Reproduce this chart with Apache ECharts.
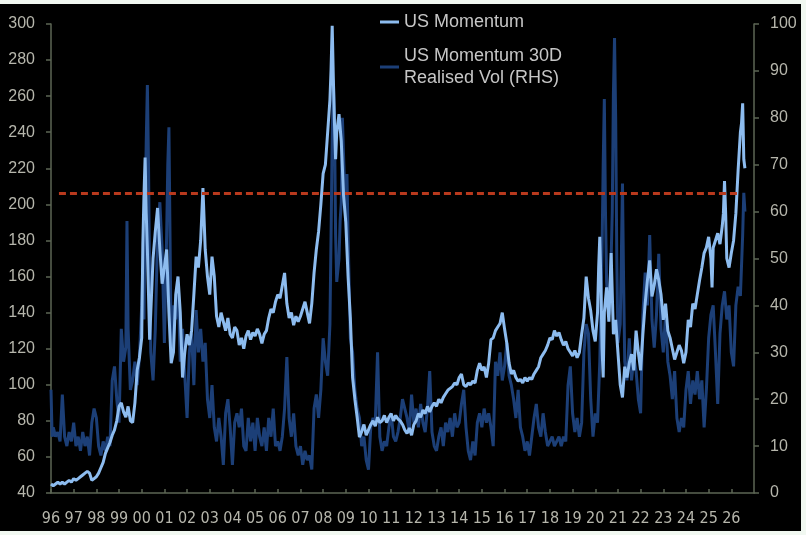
<!DOCTYPE html>
<html>
<head>
<meta charset="utf-8">
<script src="https://cdn.jsdelivr.net/npm/echarts@6/dist/echarts.min.js"></script>
<style>
  html, body { margin: 0; padding: 0; background: #f1f8f1; }
  #bg { position: absolute; left: 0; top: 4px; width: 801px; height: 527px; background: #000; }
  #main { position: absolute; left: 0; top: 0; width: 806px; height: 535px; }
</style>
</head>
<body>
<div id="bg"></div>
<div id="main"></div>
<script>
// ---- Data ----
const xTickYears = [1996, 2027];          // x axis range (labels 96 ... 26)
const leftTicks = [40, 300, 20];          // min, max, interval
const rightTicks = [0, 100, 10];
const thresholdLevel = 206;               // red dashed line, LHS
const thresholdSpan = [1996.35, 2026.28];

// US Momentum (LHS)
const momentum = [
[1996.0,45],[1996.1,44],[1996.2,45],[1996.3,46],[1996.4,45],[1996.5,46],[1996.6,45],[1996.7,46],[1996.8,47],[1996.9,46],
[1997.0,48],[1997.1,47],[1997.2,48],[1997.3,49],[1997.4,50],[1997.5,51],[1997.6,52],[1997.7,51],[1997.8,47],[1997.9,48],
[1998.0,49],[1998.1,51],[1998.2,54],[1998.3,57],[1998.4,62],[1998.5,65],[1998.6,68],[1998.7,72],[1998.8,75],[1998.9,80],
[1999.0,88],[1999.1,90],[1999.2,85],[1999.3,82],[1999.4,88],[1999.5,80],[1999.6,79],[1999.7,90],[1999.8,108],[1999.9,115],
[2000.0,126],[2000.05,178],[2000.1,205],[2000.15,226],[2000.2,195],[2000.25,175],[2000.3,150],[2000.35,125],[2000.4,140],[2000.5,170],[2000.6,185],[2000.7,198],[2000.8,175],[2000.9,156],
[2001.0,165],[2001.1,175],[2001.2,140],[2001.3,112],[2001.4,118],[2001.5,150],[2001.6,160],[2001.7,140],[2001.8,104],[2001.9,118],
[2002.0,128],[2002.1,122],[2002.2,130],[2002.3,150],[2002.4,171],[2002.5,165],[2002.6,180],[2002.7,209],[2002.8,175],[2002.9,160],
[2003.0,150],[2003.1,171],[2003.2,160],[2003.3,138],[2003.4,132],[2003.5,140],[2003.6,135],[2003.7,130],[2003.8,137],[2003.9,128],
[2004.0,126],[2004.1,132],[2004.2,130],[2004.3,122],[2004.4,126],[2004.5,120],[2004.6,127],[2004.7,130],[2004.8,125],[2004.9,129],
[2005.0,127],[2005.1,131],[2005.2,128],[2005.3,123],[2005.4,128],[2005.5,130],[2005.6,137],[2005.7,142],[2005.8,140],[2005.9,146],
[2006.0,150],[2006.1,148],[2006.2,155],[2006.3,162],[2006.4,145],[2006.5,137],[2006.6,140],[2006.7,133],[2006.8,138],[2006.9,135],
[2007.0,138],[2007.1,142],[2007.2,146],[2007.3,140],[2007.4,134],[2007.5,145],[2007.6,162],[2007.7,175],[2007.8,185],[2007.9,200],
[2008.0,217],[2008.1,222],[2008.2,240],[2008.3,258],[2008.35,275],[2008.4,299],[2008.45,270],[2008.5,245],[2008.55,225],[2008.6,240],[2008.7,250],[2008.8,235],[2008.9,205],
[2009.0,190],[2009.1,160],[2009.2,137],[2009.3,104],[2009.4,92],[2009.5,82],[2009.6,71],[2009.7,74],[2009.8,78],[2009.9,72],
[2010.0,75],[2010.1,78],[2010.2,80],[2010.3,77],[2010.4,82],[2010.5,79],[2010.6,80],[2010.7,83],[2010.8,79],[2010.9,82],
[2011.0,84],[2011.1,80],[2011.2,83],[2011.3,81],[2011.4,80],[2011.5,78],[2011.6,75],[2011.7,73],[2011.8,76],[2011.9,72],
[2012.0,78],[2012.1,80],[2012.2,84],[2012.3,82],[2012.4,86],[2012.5,84],[2012.6,88],[2012.7,85],[2012.8,88],[2012.9,90],
[2013.0,88],[2013.1,92],[2013.2,90],[2013.3,93],[2013.4,95],[2013.5,97],[2013.6,98],[2013.7,99],[2013.8,101],[2013.9,100],
[2014.0,104],[2014.1,106],[2014.2,100],[2014.3,99],[2014.4,101],[2014.5,100],[2014.6,102],[2014.7,101],[2014.8,108],[2014.9,112],
[2015.0,108],[2015.1,110],[2015.2,104],[2015.3,112],[2015.4,125],[2015.5,126],[2015.6,130],[2015.7,132],[2015.8,134],[2015.9,140],
[2016.0,131],[2016.1,123],[2016.2,112],[2016.3,106],[2016.4,108],[2016.5,104],[2016.6,102],[2016.7,103],[2016.8,101],[2016.9,104],
[2017.0,102],[2017.1,104],[2017.2,103],[2017.3,106],[2017.4,108],[2017.5,110],[2017.6,115],[2017.7,117],[2017.8,119],[2017.9,122],
[2018.0,126],[2018.1,125],[2018.2,130],[2018.3,127],[2018.4,129],[2018.5,125],[2018.6,122],[2018.7,124],[2018.8,120],[2018.9,118],
[2019.0,116],[2019.1,119],[2019.2,115],[2019.3,118],[2019.4,128],[2019.5,137],[2019.6,160],[2019.7,148],[2019.8,141],[2019.9,130],
[2020.0,124],[2020.1,140],[2020.15,165],[2020.2,182],[2020.25,156],[2020.3,120],[2020.35,104],[2020.4,140],[2020.5,154],[2020.6,135],[2020.7,173],[2020.8,128],[2020.9,136],
[2021.0,118],[2021.1,100],[2021.2,93],[2021.3,110],[2021.4,104],[2021.5,112],[2021.6,117],[2021.7,108],[2021.8,130],[2021.9,118],
[2022.0,108],[2022.1,128],[2022.2,145],[2022.3,158],[2022.4,169],[2022.5,149],[2022.6,155],[2022.7,164],[2022.8,158],[2022.9,150],
[2023.0,136],[2023.1,145],[2023.2,130],[2023.3,126],[2023.4,120],[2023.5,114],[2023.6,118],[2023.7,122],[2023.8,119],[2023.9,112],
[2024.0,118],[2024.1,136],[2024.2,132],[2024.3,145],[2024.4,142],[2024.5,150],[2024.6,158],[2024.7,165],[2024.8,173],[2024.9,176],
[2025.0,182],[2025.1,170],[2025.15,154],[2025.2,176],[2025.3,180],[2025.4,184],[2025.5,178],[2025.6,188],[2025.65,195],[2025.7,213],[2025.75,195],[2025.8,170],[2025.9,165],
[2026.0,173],[2026.1,180],[2026.2,195],[2026.3,219],[2026.4,240],[2026.45,245],[2026.5,256],[2026.55,225],[2026.6,220]
];

// US Momentum 30D Realised Vol (RHS)
const realisedVol = [
[1996.0,22],[1996.05,12],[1996.1,14],[1996.2,12],[1996.3,13],[1996.4,11],[1996.5,21],[1996.6,12],[1996.7,10],[1996.8,13],[1996.9,11],
[1997.0,15],[1997.1,10],[1997.2,12],[1997.3,9],[1997.4,13],[1997.5,10],[1997.6,12],[1997.7,8],[1997.8,15],[1997.9,18],
[1998.0,16],[1998.1,10],[1998.2,8],[1998.3,11],[1998.4,9],[1998.5,12],[1998.6,10],[1998.7,24],[1998.8,27],[1998.9,20],
[1999.0,15],[1999.1,35],[1999.2,28],[1999.3,31],[1999.35,58],[1999.4,35],[1999.5,22],[1999.6,24],[1999.7,28],[1999.8,23],[1999.9,29],
[2000.0,40],[2000.05,48],[2000.1,37],[2000.15,60],[2000.2,75],[2000.25,87],[2000.3,70],[2000.35,45],[2000.4,30],[2000.5,24],[2000.6,35],[2000.7,55],[2000.8,62],[2000.9,52],
[2001.0,32],[2001.1,55],[2001.15,70],[2001.2,78],[2001.3,30],[2001.4,40],[2001.5,37],[2001.6,45],[2001.7,28],[2001.8,35],[2001.9,25],
[2002.0,16],[2002.1,30],[2002.2,34],[2002.3,23],[2002.4,39],[2002.5,30],[2002.6,35],[2002.7,28],[2002.8,32],[2002.9,20],
[2003.0,16],[2003.1,23],[2003.2,14],[2003.3,11],[2003.4,16],[2003.5,12],[2003.6,6],[2003.7,17],[2003.8,20],[2003.9,14],
[2004.0,6],[2004.1,15],[2004.2,17],[2004.3,14],[2004.4,18],[2004.5,10],[2004.6,9],[2004.7,16],[2004.8,11],[2004.9,15],
[2005.0,9],[2005.1,16],[2005.2,12],[2005.3,10],[2005.4,14],[2005.5,9],[2005.6,16],[2005.7,12],[2005.8,18],[2005.9,10],
[2006.0,11],[2006.1,9],[2006.2,12],[2006.3,18],[2006.4,29],[2006.5,16],[2006.6,12],[2006.7,17],[2006.8,10],[2006.9,8],
[2007.0,10],[2007.1,6],[2007.2,9],[2007.3,7],[2007.4,8],[2007.5,5],[2007.6,18],[2007.7,21],[2007.8,16],[2007.9,22],
[2008.0,33],[2008.1,28],[2008.2,25],[2008.3,36],[2008.35,55],[2008.4,75],[2008.45,88],[2008.5,80],[2008.55,55],[2008.6,45],[2008.7,50],[2008.75,58],[2008.8,62],[2008.85,80],[2008.9,72],
[2009.0,58],[2009.05,68],[2009.1,55],[2009.2,33],[2009.3,30],[2009.4,22],[2009.5,18],[2009.6,16],[2009.7,10],[2009.8,12],[2009.9,7],
[2010.0,5],[2010.1,14],[2010.2,16],[2010.3,15],[2010.4,30],[2010.5,12],[2010.6,9],[2010.7,11],[2010.8,10],[2010.9,14],
[2011.0,17],[2011.1,12],[2011.2,11],[2011.3,13],[2011.4,16],[2011.5,20],[2011.6,18],[2011.7,16],[2011.8,13],[2011.9,21],
[2012.0,15],[2012.1,18],[2012.2,14],[2012.3,19],[2012.4,15],[2012.5,13],[2012.6,18],[2012.7,26],[2012.8,13],[2012.9,10],
[2013.0,9],[2013.1,12],[2013.2,14],[2013.3,10],[2013.4,15],[2013.5,13],[2013.6,16],[2013.7,12],[2013.8,17],[2013.9,14],
[2014.0,15],[2014.1,19],[2014.2,22],[2014.3,14],[2014.4,9],[2014.5,7],[2014.6,11],[2014.7,8],[2014.8,15],[2014.9,17],
[2015.0,14],[2015.1,18],[2015.2,15],[2015.3,17],[2015.4,14],[2015.5,10],[2015.6,28],[2015.7,25],[2015.8,30],[2015.9,24],
[2016.0,27],[2016.1,32],[2016.2,25],[2016.3,23],[2016.4,20],[2016.5,16],[2016.6,22],[2016.7,14],[2016.8,12],[2016.9,9],
[2017.0,11],[2017.1,8],[2017.2,12],[2017.3,16],[2017.4,19],[2017.5,14],[2017.6,12],[2017.7,17],[2017.8,13],[2017.9,10],
[2018.0,11],[2018.1,12],[2018.2,10],[2018.3,11],[2018.4,12],[2018.5,10],[2018.6,12],[2018.7,11],[2018.8,23],[2018.9,27],
[2019.0,17],[2019.1,13],[2019.2,16],[2019.3,12],[2019.4,15],[2019.5,30],[2019.6,36],[2019.7,34],[2019.8,20],[2019.9,12],
[2020.0,17],[2020.1,15],[2020.2,28],[2020.25,40],[2020.3,52],[2020.35,70],[2020.4,84],[2020.45,60],[2020.5,45],[2020.6,38],[2020.7,50],[2020.75,60],[2020.8,85],[2020.85,97],[2020.9,80],[2020.95,50],
[2021.0,32],[2021.1,36],[2021.15,50],[2021.2,66],[2021.25,45],[2021.3,28],[2021.4,24],[2021.5,33],[2021.6,24],[2021.7,29],[2021.8,26],[2021.9,20],
[2022.0,17],[2022.1,38],[2022.2,47],[2022.3,40],[2022.4,55],[2022.5,37],[2022.6,31],[2022.7,38],[2022.8,51],[2022.9,35],
[2023.0,30],[2023.1,38],[2023.2,28],[2023.3,25],[2023.4,20],[2023.5,26],[2023.6,16],[2023.7,13],[2023.8,16],[2023.9,14],
[2024.0,22],[2024.1,26],[2024.2,19],[2024.3,24],[2024.4,21],[2024.5,26],[2024.6,20],[2024.7,24],[2024.8,14],[2024.9,22],
[2025.0,33],[2025.1,38],[2025.2,40],[2025.3,30],[2025.4,19],[2025.5,34],[2025.6,40],[2025.7,43],[2025.8,37],[2025.9,40],
[2026.0,30],[2026.1,27],[2026.2,40],[2026.3,44],[2026.4,42],[2026.5,55],[2026.55,64],[2026.6,60]
];

const seriesNames = ['US Momentum', 'US Momentum 30D\nRealised Vol (RHS)'];

// ---- Chart ----
const chart = echarts.init(document.getElementById('main'), null, { renderer: 'canvas' });
const axisColor = '#5c6654';
const labelColor = '#b6b6ac';
const narrow = '"Liberation Sans Narrow", "DejaVu Sans Condensed", "Liberation Sans", sans-serif';
const sans = '"Liberation Sans", Arial, sans-serif';

chart.setOption({
  backgroundColor: 'transparent',
  animation: false,
  grid: { left: 51, right: 52, top: 24, bottom: 42, containLabel: false },
  legend: [
    {
      data: [seriesNames[0]], left: 380, top: 11, padding: 0, orient: 'vertical',
      icon: 'rect', itemWidth: 19, itemHeight: 3,
      textStyle: { color: '#c6c6c6', fontSize: 18, fontFamily: sans, lineHeight: 22 }
    },
    {
      data: [seriesNames[1]], left: 380, top: 34, padding: 0, orient: 'vertical',
      icon: 'rect', itemWidth: 19, itemHeight: 3,
      textStyle: { color: '#c6c6c6', fontSize: 18, fontFamily: sans, lineHeight: 22, padding: [22, 0, 0, 0] }
    }
  ],
  xAxis: {
    type: 'value', min: xTickYears[0], max: xTickYears[1], interval: 1,
    axisLine: { lineStyle: { color: axisColor, width: 1.5 } },
    axisTick: { inside: true, length: 4, lineStyle: { color: axisColor, width: 1.5 } },
    splitLine: { show: false },
    axisLabel: {
      color: labelColor, fontSize: 16, fontFamily: narrow, margin: 18, showMaxLabel: false,
      formatter: v => { const y = Math.round(v) % 100; return (y < 10 ? '0' : '') + y; }
    }
  },
  yAxis: [
    {
      type: 'value', min: leftTicks[0], max: leftTicks[1], interval: leftTicks[2], position: 'left',
      axisLine: { show: true, lineStyle: { color: axisColor, width: 1.5 } },
      axisTick: { show: true, length: 5, lineStyle: { color: axisColor, width: 1.5 } },
      splitLine: { show: false },
      axisLabel: { color: labelColor, fontSize: 16, fontFamily: sans, margin: 16 }
    },
    {
      type: 'value', min: rightTicks[0], max: rightTicks[1], interval: rightTicks[2], position: 'right',
      axisLine: { show: true, lineStyle: { color: axisColor, width: 1.5 } },
      axisTick: { show: true, length: 5, lineStyle: { color: axisColor, width: 1.5 } },
      splitLine: { show: false },
      axisLabel: { color: labelColor, fontSize: 16, fontFamily: sans, margin: 16 }
    }
  ],
  series: [
    {
      name: seriesNames[1], type: 'line', yAxisIndex: 1, data: realisedVol,
      showSymbol: false, symbol: 'none', z: 2,
      lineStyle: { color: '#1c3f77', width: 3 }, itemStyle: { color: '#1c3f77' }
    },
    {
      name: seriesNames[0], type: 'line', yAxisIndex: 0, data: momentum,
      showSymbol: false, symbol: 'none', z: 3,
      lineStyle: { color: '#8dbcef', width: 3 }, itemStyle: { color: '#8dbcef' }
    },
    {
      name: 'threshold', type: 'line', yAxisIndex: 0,
      data: [[thresholdSpan[0], thresholdLevel], [thresholdSpan[1], thresholdLevel]],
      showSymbol: false, symbol: 'none', z: 4,
      lineStyle: { color: '#b8391d', width: 3, type: [7, 4] }
    }
  ]
});
</script>
</body>
</html>
